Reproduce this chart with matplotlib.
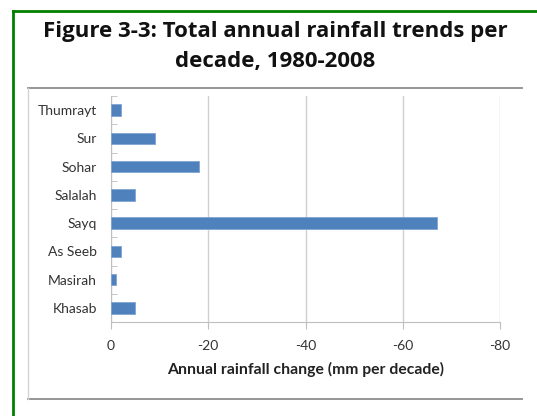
import matplotlib.pyplot as plt
from matplotlib.lines import Line2D
import numpy as np

# Stations, top to bottom, and their trend in mm per decade
stations = ['Thumrayt', 'Sur', 'Sohar', 'Salalah', 'Sayq', 'As Seeb', 'Masirah', 'Khasab']
trend = [-2, -9, -18, -5, -67, -2, -1, -5]
xticks = [0, -20, -40, -60, -80]

plt.rcParams['font.family'] = ['Lato', 'DejaVu Sans']

W, H = 537, 416
fig = plt.figure(figsize=(W / 100, H / 100), dpi=100)

def fx(px):
    return px / W

def fy(py):
    return 1 - py / H

# green frame (top and left edges)
fig.add_artist(Line2D([fx(13), 1.0], [fy(11), fy(11)], color='#008000', lw=2))
fig.add_artist(Line2D([fx(13), fx(13)], [fy(11), 0.0], color='#008000', lw=2))

# chart box
fig.add_artist(Line2D([fx(28), fx(522)], [fy(88), fy(88)], color='#8c8c8c', lw=1.3))
fig.add_artist(Line2D([fx(28), fx(522)], [fy(399), fy(399)], color='#8c8c8c', lw=1.3))
fig.add_artist(Line2D([fx(28), fx(28)], [fy(88), fy(399)], color='#d4d4d4', lw=1))

title_font = dict(ha='center', va='center', fontsize=16, fontweight='bold',
                  color='#111111', family=['Open Sans', 'DejaVu Sans'])
fig.text(fx(275), fy(31), 'Figure 3-3: Total annual rainfall trends per', **title_font)
fig.text(fx(275), fy(61), 'decade, 1980-2008', **title_font)

ax = fig.add_axes([fx(111), fy(322), fx(500) - fx(111), fy(96) - fy(322)])
y = np.arange(len(stations))
ax.barh(y, trend, height=0.4, color='#4f81bd', edgecolor='#7fa4d3', linewidth=0.6, zorder=3)
ax.set_ylim(len(stations) - 0.5, -0.5)
ax.set_xlim(0, -80)
ax.set_xticks(xticks)
ax.set_xticklabels([str(v) for v in xticks])
ax.set_yticks(y)
ax.set_yticklabels(stations)
ax.set_yticks(np.arange(len(stations) + 1) - 0.5, minor=True)

ax.grid(axis='x', color='#d0d0d0', lw=1, zorder=0)
for s in ['top', 'right']:
    ax.spines[s].set_visible(False)
ax.spines['left'].set_color('#bfbfbf')
ax.spines['bottom'].set_color('#bfbfbf')

ax.tick_params(axis='y', which='major', length=0, pad=10, labelsize=10, labelcolor='#333333')
ax.tick_params(axis='y', which='minor', direction='in', length=4, color='#bfbfbf')
ax.tick_params(axis='x', length=5, color='#bfbfbf', pad=8, labelsize=10, labelcolor='#333333')

ax.set_xlabel('Annual rainfall change (mm per decade)', fontsize=11.3, fontweight='bold',
              color='#222222', labelpad=7)

fig.savefig('out.png', dpi=100)
